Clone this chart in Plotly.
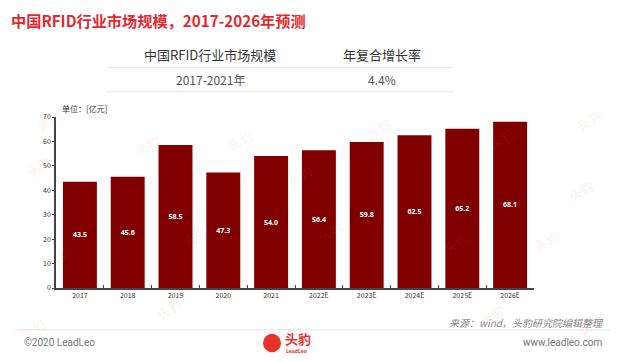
import plotly.graph_objects as go

categories = ["2017", "2018", "2019", "2020", "2021", "2022E", "2023E", "2024E", "2025E", "2026E"]
values = [43.5, 45.6, 58.5, 47.3, 54.0, 56.4, 59.8, 62.5, 65.2, 68.1]
y_ticks = [0, 10, 20, 30, 40, 50, 60, 70]

title_text = "中国RFID行业市场规模，2017-2026年预测"
table_header = ["中国RFID行业市场规模", "年复合增长率"]
table_row = ["2017-2021年", "4.4%"]
unit_text = "单位：[亿元]"
source_text = "来源：wind，头豹研究院编辑整理"

OFF = 8  # page body margin
W, H = 623 - OFF, 362 - OFF
FONT = "Noto Sans CJK SC"

def px(x):
    return (x - OFF) / W

def py(y):
    return 1 - (y - OFF) / H

fig = go.Figure()
fig.add_trace(go.Bar(
    x=categories, y=values,
    marker=dict(color="#800000", line=dict(width=0)),
    text=[f"<b>{v:.1f}</b>" for v in values],
    textposition="inside", insidetextanchor="middle",
    textfont=dict(color="white", size=7, family="Noto Sans"),
    width=0.71,
))

fig.update_layout(
    width=W, height=H,
    margin=dict(l=0, r=0, t=0, b=0),
    paper_bgcolor="white", plot_bgcolor="white",
    showlegend=False,
    font=dict(family=FONT),
    xaxis=dict(
        domain=[px(56), px(534)],
        tickfont=dict(size=7, color="#333"),
        showline=True, linecolor="#444", linewidth=1.5,
        ticks="inside", ticklen=3, tickcolor="#444", tickson="boundaries",
        showgrid=False, fixedrange=True,
    ),
    yaxis=dict(
        domain=[py(290), py(114)],
        range=[0, 70],
        tickvals=y_ticks,
        tickfont=dict(size=7, color="#333"),
        showline=True, linecolor="#444", linewidth=1.5,
        ticks="outside", ticklen=2, tickcolor="#444",
        showgrid=False, zeroline=False,
    ),
)

annotations = []
shapes = []

# Watermarks
wm_pos = [(30, 100), (128, 125), (240, 120), (378, 108), (520, 118), (608, 100),
          (40, 275), (175, 255), (330, 250), (475, 262), (565, 260), (20, 165),
          (600, 190), (300, 175), (150, 330), (510, 335), (610, 345), (14, 350)]
for (x, y) in wm_pos:
    annotations.append(dict(x=px(x), y=py(y), xref="paper", yref="paper", text="<b>头豹</b>",
                            showarrow=False, textangle=-30,
                            font=dict(size=13, color="rgba(235,80,80,0.08)", family=FONT)))

# Title
annotations.append(dict(x=px(9), y=py(14), xref="paper", yref="paper", xanchor="left", yanchor="middle",
                        text=f"<b>{title_text}</b>", showarrow=False,
                        font=dict(size=15.2, color="#E3292D", family=FONT)))

# Table
col_x = [210, 382]
for cx, t in zip(col_x, table_header):
    annotations.append(dict(x=px(cx), y=py(50), xref="paper", yref="paper", xanchor="center", yanchor="middle",
                            text=t, showarrow=False, font=dict(size=13, color="#333", family=FONT)))
for cx, t in zip(col_x, table_row):
    annotations.append(dict(x=px(cx), y=py(75), xref="paper", yref="paper", xanchor="center", yanchor="middle",
                            text=t, showarrow=False, font=dict(size=12, color="#555", family=FONT)))
for ly in (63, 88):
    shapes.append(dict(type="line", xref="paper", yref="paper", x0=px(107), x1=px(454), y0=py(ly), y1=py(ly),
                       line=dict(color="#E6E6E6", width=1)))

# Unit label
annotations.append(dict(x=px(60), y=py(105), xref="paper", yref="paper", xanchor="left", yanchor="middle",
                        text=unit_text, showarrow=False, font=dict(size=8, color="#333", family=FONT)))

# Footer
annotations.append(dict(x=px(606), y=py(325), xref="paper", yref="paper", xanchor="right", yanchor="middle",
                        text=f"<i>{source_text}</i>", showarrow=False, font=dict(size=10, color="#888", family=FONT)))
shapes.append(dict(type="line", xref="paper", yref="paper", x0=px(15), x1=px(610), y0=py(333), y1=py(333),
                   line=dict(color="#EEEEEE", width=1.5)))
annotations.append(dict(x=px(22), y=py(346), xref="paper", yref="paper", xanchor="left", yanchor="middle",
                        text="©2020 LeadLeo", showarrow=False, font=dict(size=10, color="#777", family="Roboto")))
annotations.append(dict(x=px(604), y=py(346), xref="paper", yref="paper", xanchor="right", yanchor="middle",
                        text="www.leadleo.com", showarrow=False, font=dict(size=10, color="#777", family="Roboto")))
# Logo
shapes.append(dict(type="circle", xref="paper", yref="paper", x0=px(263), x1=px(281), y0=py(356), y1=py(337),
                   fillcolor="#E8322A", line=dict(width=0)))
annotations.append(dict(x=px(283), y=py(342), xref="paper", yref="paper", xanchor="left", yanchor="middle",
                        text="<b>头豹</b>", showarrow=False, font=dict(size=13, color="#E8322A", family=FONT)))
annotations.append(dict(x=px(284), y=py(355), xref="paper", yref="paper", xanchor="left", yanchor="middle",
                        text="<b>LeadLeo</b>", showarrow=False, font=dict(size=5, color="#E8322A", family="Noto Sans")))

fig.update_layout(annotations=annotations, shapes=shapes)
fig.write_html("out.html")
